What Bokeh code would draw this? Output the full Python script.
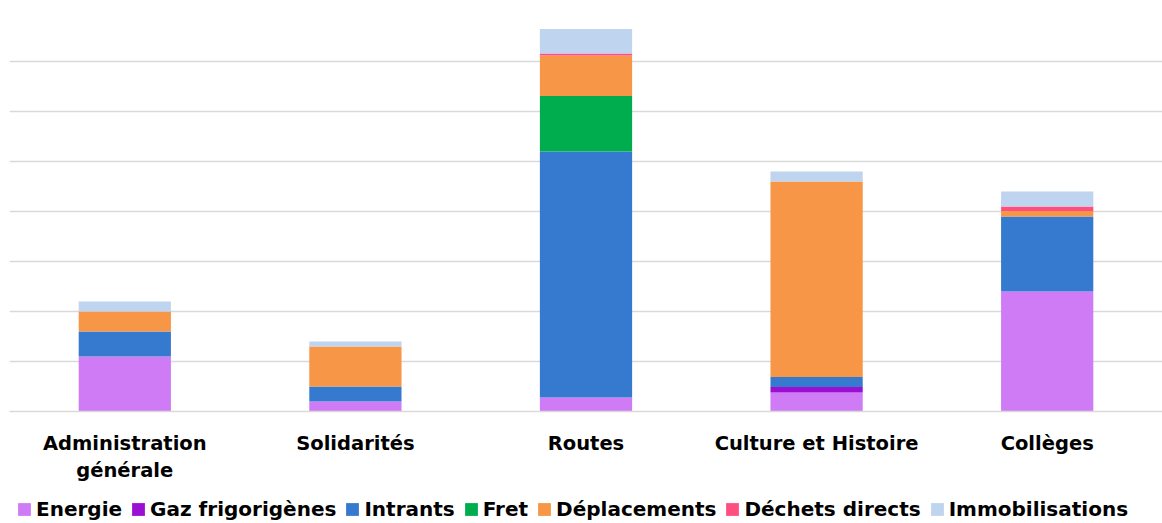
from bokeh.plotting import figure
from bokeh.models import FactorRange, Range1d, SingleIntervalTicker, Legend
from bokeh.layouts import column
from bokeh.embed import file_html
from bokeh.resources import INLINE

categories = ["Administration\ngénérale", "Solidarités", "Routes", "Culture et Histoire", "Collèges"]
series = ["Energie", "Gaz frigorigènes", "Intrants", "Fret", "Déplacements", "Déchets directs", "Immobilisations"]
energie = [1.1, 0.2, 0.28, 0.38, 2.4]
gaz = [0.0, 0.0, 0.0, 0.11, 0.0]
intrants = [0.5, 0.3, 4.92, 0.2, 1.5]
fret = [0.0, 0.0, 1.11, 0.0, 0.0]
deplacements = [0.4, 0.8, 0.81, 3.91, 0.11]
dechets = [0.0, 0.0, 0.04, 0.0, 0.09]
immobilisations = [0.2, 0.1, 0.49, 0.2, 0.3]
colors = ["#CF7BF5", "#9A0FD2", "#367ACF", "#00AD4E", "#F79646", "#FF4F81", "#BFD4EE"]

keys = ["s0", "s1", "s2", "s3", "s4", "s5", "s6"]
data = {"cat": categories}
for k, vals in zip(keys, [energie, gaz, intrants, fret, deplacements, dechets, immobilisations]):
    data[k] = vals

p = figure(x_range=FactorRange(*categories, range_padding=0), y_range=Range1d(0, 8),
           frame_width=1153, frame_height=400, output_backend="svg", toolbar_location=None,
           min_border_left=9, min_border_right=0, min_border_top=11, min_border_bottom=69)

renderers = p.vbar_stack(keys, x="cat", width=0.4, color=colors, source=data, line_width=0)

p.outline_line_color = None
p.yaxis.visible = False
p.xgrid.grid_line_color = None
p.ygrid.ticker = SingleIntervalTicker(interval=1)
p.ygrid.grid_line_color = "#D9D9D9"
p.ygrid.grid_line_width = 1.5

xa = p.xaxis[0]
xa.axis_line_color = "#D9D9D9"
xa.axis_line_width = 1.5
xa.major_tick_line_color = None
xa.minor_tick_line_color = None
xa.major_tick_out = 0
xa.major_tick_in = 0
xa.major_label_standoff = 20
xa.major_label_text_font = "DejaVu Sans"
xa.major_label_text_font_style = "bold"
xa.major_label_text_font_size = "19.5px"
xa.major_label_text_color = "#000000"

# Legend strip: a second figure whose stacked bars sit outside its visible range
q = figure(x_range=FactorRange(*categories, range_padding=0), y_range=Range1d(100, 101),
           width=1162, height=43, output_backend="svg", toolbar_location=None,
           min_border_left=0, min_border_right=0, min_border_top=0, min_border_bottom=0)
q.axis.visible = False
q.grid.visible = False
q.outline_line_color = None
legend_renderers = q.vbar_stack(keys, x="cat", width=0.4, color=colors, source=data, line_width=0)

legend = Legend(items=[(s, [r]) for s, r in zip(series, legend_renderers)], orientation="horizontal",
                location=(7, 7), glyph_width=16, glyph_height=16, label_standoff=4, spacing=8,
                padding=0, margin=0, border_line_color=None, background_fill_alpha=0,
                label_height=22, label_text_font="DejaVu Sans", label_text_font_style="bold",
                label_text_font_size="20px", label_text_color="#000000")
q.add_layout(legend, "center")

layout = column(p, q, spacing=0)
open("out.html", "w").write(file_html(layout, INLINE))
